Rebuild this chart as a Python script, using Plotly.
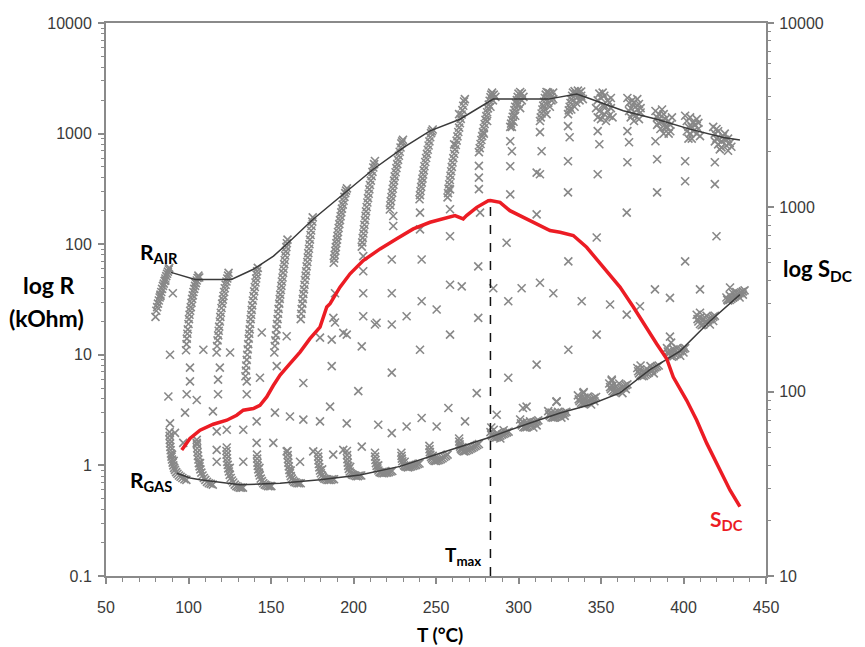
import plotly.graph_objects as go

# ---------------- data ----------------
# R_AIR envelope line (T in °C, R in kOhm)
rair_T = [89.4, 104, 126, 139, 151.5, 159.5, 175.5, 193.6, 212, 230.2, 246.4, 264.5, 284.7,
          318, 335.3, 341.3, 363.5, 383.7, 403.9, 424.1, 434.2]
rair_R = [55.6, 48, 48, 59, 78, 100, 168, 282, 476, 748, 1058, 1349, 2050,
          2050, 2275, 2120, 1607, 1349, 1097, 922, 877]

# R_GAS envelope line
rgas_T = [93, 101, 107, 131.2, 155.5, 179.7, 203.9, 228.2, 252.4, 282.7, 307, 325.2, 343.3,
          361.5, 379.7, 397.9, 416, 434.2]
rgas_R = [0.85, 0.77, 0.74, 0.667, 0.69, 0.74, 0.82, 0.98, 1.29, 1.80, 2.42, 2.98, 3.54,
          4.52, 7.35, 10.8, 20.1, 35]

# S_DC curve (right axis)
sdc_T = [95.9, 100.9, 107, 115, 123.2, 129.2, 133.2, 139.3, 143.3, 147.4, 151.4, 155.5, 161.5,
         167.6, 173.6, 179.7, 183.8, 185.8, 191.8, 197.9, 205.9, 216.1, 226.2, 236.2, 246.4,
         254.4, 261.5, 266.5, 268.5, 274.7, 281.7, 283, 288.8, 294.8, 305,
         319.1, 325.2, 333.2, 341.3, 351.4, 361.5, 369.6, 377.7, 383.7, 389.8, 393.8, 401.9,
         408, 414.1, 422.1, 428.2, 434.2]
sdc_S = [48.2, 55.7, 61.8, 66.6, 70, 74.5, 79.3, 81, 84.4, 93.6, 108, 123, 142,
         164, 194, 224, 288, 300, 369, 436, 514, 595, 675, 764, 830,
         865, 902, 865, 902, 1000, 1087, 1090, 1064, 959, 865,
         748, 732, 703, 607, 473, 369, 288, 220, 182, 151, 120, 89.8,
         70, 52.4, 37.5, 29.2, 23.8]

# T_max marker (dashed line)
tmax_T = [283, 283]
tmax_S = [10, 1090]

# dense measurement clusters in air (T, R)
air_clusters = [
    [(80, 22), (80.5, 25), (81, 27), (81.5, 29), (82, 31), (82.5, 33), (83, 35), (83.5, 37), (84, 39.5),
     (84.5, 42), (85, 44), (85.5, 46.5), (86, 49), (86.5, 51.5), (87, 54), (87.5, 56.5), (88, 59), (88.3, 61),
     (86, 47), (83, 34)],
    [(98.5, 11), (98.8, 12.5), (99, 14), (99.3, 15.5), (99.6, 17), (100, 19), (100.3, 21), (100.6, 23),
     (101, 25), (101.4, 27), (101.8, 29.5), (102.2, 32), (102.6, 34.5), (103, 37), (103.5, 39.5), (104, 42),
     (104.5, 44.5), (105, 47), (105.5, 49.5), (106, 52), (106.5, 50), (104, 45)],
    [(117, 10.5), (117.3, 12), (117.6, 13.5), (118, 15), (118.3, 16.5), (118.6, 18), (119, 20), (119.3, 22),
     (119.6, 24), (120, 26.5), (120.4, 29), (120.8, 31.5), (121.2, 34), (121.6, 37), (122, 40), (122.5, 43),
     (123, 46), (123.5, 49), (124, 52), (124.3, 55)],
    [(134.5, 6.4), (134.8, 7.2), (135, 8), (135.3, 9), (135.6, 10), (135.9, 11.2), (136.2, 12.5), (136.5, 14),
     (136.8, 15.5), (137.1, 17), (137.4, 19), (137.7, 21), (138, 23), (138.3, 25.5), (138.6, 28), (139, 31),
     (139.4, 34), (139.8, 37.5), (140.2, 41), (140.6, 45), (141, 49), (141.3, 53), (141.6, 57), (142, 61)],
    [(152, 10.5), (152.3, 12), (152.6, 13.5), (153, 15), (153.3, 17), (153.6, 19), (154, 21), (154.3, 23.5),
     (154.6, 26), (155, 29), (155.3, 32), (155.6, 35), (156, 38.5), (156.3, 42), (156.6, 46), (157, 50),
     (157.3, 55), (157.6, 60), (158, 66), (158.3, 72), (158.6, 79), (159, 86), (159.3, 94), (159.6, 102),
     (160, 110)],
    [(168, 21), (168.3, 23.5), (168.6, 26), (169, 29), (169.3, 32), (169.6, 35.5), (170, 39), (170.3, 43),
     (170.6, 47.5), (171, 52), (171.3, 57), (171.6, 63), (172, 69), (172.3, 76), (172.6, 83), (173, 91),
     (173.3, 100), (173.6, 110), (174, 121), (174.3, 133), (174.6, 146), (175, 160), (175.3, 175)],
    [(188, 68), (188.3, 74), (188.6, 80), (189, 87), (189.3, 94), (189.6, 102), (190, 110), (190.3, 119),
     (190.6, 129), (191, 140), (191.4, 152), (191.8, 165), (192.2, 179), (192.6, 194), (193, 210),
     (193.5, 228), (194, 247), (194.5, 268), (195, 290), (195.5, 305), (196, 320)],
    [(205, 95), (205.3, 104), (205.6, 114), (206, 125), (206.3, 137), (206.6, 150), (207, 165), (207.3, 181),
     (207.6, 198), (208, 217), (208.4, 238), (208.8, 261), (209.2, 286), (209.6, 313), (210, 343),
     (210.5, 376), (211, 412), (211.5, 451), (212, 494), (212.5, 530), (213, 565)],
    [(222, 206), (222.3, 225), (222.6, 245), (223, 267), (223.4, 291), (223.8, 317), (224.2, 345),
     (224.6, 376), (225, 410), (225.5, 447), (226, 487), (226.5, 530), (227, 578), (227.5, 630), (228, 686),
     (228.5, 748), (229, 815), (229.5, 850), (230, 880)],
    [(240, 255), (240.3, 278), (240.6, 303), (241, 330), (241.4, 360), (241.8, 392), (242.2, 427),
     (242.6, 465), (243, 507), (243.5, 553), (244, 602), (244.5, 656), (245, 715), (245.5, 780), (246, 850),
     (246.5, 927), (247, 1010), (247.5, 1050), (248, 1090)],
    [(257, 265), (257.3, 290), (257.6, 318), (258, 348), (258.4, 381), (258.8, 417), (259.2, 457), (259.6, 500),
     (260, 548), (260.5, 600), (261, 657), (261.5, 720), (262, 788), (262.5, 863), (263, 945), (263.5, 1035),
     (264, 1133), (264.5, 1240), (265, 1360), (265.5, 1490), (266, 1630), (266.5, 1785), (267, 1950),
     (267.5, 2050), (264, 1500), (261, 800)],
    [(276, 680), (276.5, 740), (277, 805), (277.5, 875), (278, 950), (278.5, 1030), (279, 1120), (279.5, 1220),
     (280, 1330), (280.5, 1440), (281, 1560), (281.5, 1690), (282, 1830), (282.5, 1980), (283, 2130),
     (283.5, 2250), (284, 2350), (285, 2250), (286, 2150), (283, 1750), (281, 1300), (279, 1000), (284.5, 2000)],
    [(295, 1150), (295.5, 1230), (296, 1320), (296.5, 1420), (297, 1520), (297.5, 1630), (298, 1750),
     (298.5, 1880), (299, 2010), (299.5, 2150), (300, 2300), (301, 2380), (302, 2300), (303, 2150),
     (298, 1450), (300, 1850), (302, 2000), (301, 1700), (296, 1150), (297, 1280)],
    [(313, 1300), (313.5, 1400), (314, 1520), (314.5, 1650), (315, 1790), (315.5, 1940), (316, 2100),
     (316.5, 2250), (317, 2380), (318, 2350), (319, 2300), (320, 2150), (321, 2350), (316, 1650), (318, 1900),
     (320, 2000), (317, 1500), (319, 1750), (321, 2050)],
    [(330, 1500), (330.5, 1620), (331, 1750), (331.5, 1890), (332, 2040), (332.5, 2200), (333, 2350),
     (334, 2420), (335, 2300), (336, 2450), (337, 2350), (338, 2200), (339, 2050), (332, 1650), (335, 1900),
     (334, 1750), (337, 2000), (338, 2400), (336, 2150)],
    [(347, 1700), (348, 2000), (349, 2300), (350, 2100), (351, 1800), (352, 1500), (353, 1300), (354, 1600),
     (355, 1900), (356, 1700), (357, 1400), (350, 1350), (352, 2200), (349, 1600), (351, 2350), (354, 2000),
     (356, 2100), (353, 1750), (348, 1400), (355, 1450)],
    [(366, 2100), (367, 1900), (368, 1700), (369, 1500), (370, 1300), (371, 1450), (372, 1650), (373, 1850),
     (374, 1550), (369, 2000), (371, 1750), (367, 1600), (373, 1350), (370, 1900), (368, 1400), (372, 2050),
     (374, 1700)],
    [(383, 1600), (384, 1400), (385, 1250), (386, 1100), (387, 1300), (388, 1500), (389, 1350), (390, 1150),
     (391, 1000), (392, 1200), (393, 1400), (387, 1650), (385, 1500), (389, 1150), (391, 1300), (384, 1200),
     (392, 1050), (388, 1000)],
    [(401, 1450), (402, 1300), (403, 1150), (404, 1000), (405, 900), (406, 1050), (407, 1200), (408, 1350),
     (409, 1100), (410, 950), (404, 1400), (402, 1050), (406, 1250), (408, 1000), (405, 1150), (403, 900),
     (409, 1250)],
    [(418, 1150), (419, 1000), (420, 900), (421, 800), (422, 720), (423, 850), (424, 950), (425, 880),
     (426, 780), (427, 700), (428, 820), (421, 1050), (419, 850), (423, 750), (425, 1000), (427, 900),
     (429, 760), (420, 1100)],
]

# dense measurement clusters in gas (T, R)
gas_clusters = [
    [(88.5, 2.0), (88.6, 1.85), (88.7, 1.7), (88.8, 1.58), (89, 1.47), (89.2, 1.37), (89.4, 1.28), (89.7, 1.2),
     (90, 1.13), (90.4, 1.06), (90.8, 1.0), (91.3, 0.95), (91.8, 0.91), (92.5, 0.87), (93.3, 0.84),
     (94.2, 0.81), (95.2, 0.79), (96.3, 0.77), (97.5, 0.75), (98.7, 0.74), (90, 1.25), (91, 1.1)],
    [(105, 1.7), (105.1, 1.55), (105.3, 1.43), (105.5, 1.32), (105.7, 1.22), (106, 1.13), (106.3, 1.05),
     (106.7, 0.98), (107.2, 0.92), (107.8, 0.86), (108.5, 0.81), (109.3, 0.77), (110.2, 0.74), (111.2, 0.71),
     (112.3, 0.69), (113.5, 0.68), (114.7, 0.67), (107, 1.05)],
    [(123, 1.35), (123.1, 1.25), (123.3, 1.16), (123.5, 1.08), (123.8, 1.01), (124.1, 0.94), (124.5, 0.88),
     (125, 0.82), (125.6, 0.77), (126.3, 0.73), (127.1, 0.7), (128, 0.67), (129, 0.65), (130, 0.64),
     (131, 0.63), (132, 0.63), (133, 0.63), (125, 0.95)],
    [(141.5, 1.25), (141.6, 1.15), (141.8, 1.06), (142, 0.99), (142.3, 0.92), (142.7, 0.86), (143.2, 0.81),
     (143.8, 0.76), (144.5, 0.72), (145.3, 0.69), (146.2, 0.67), (147.2, 0.66), (148.2, 0.65), (149.2, 0.65),
     (150.2, 0.65), (143, 0.95)],
    [(160, 1.35), (160.1, 1.24), (160.3, 1.14), (160.5, 1.06), (160.8, 0.98), (161.1, 0.91), (161.5, 0.85),
     (162, 0.8), (162.6, 0.76), (163.3, 0.73), (164.1, 0.71), (165, 0.7), (166, 0.69), (167, 0.69),
     (168, 0.69), (162, 0.9)],
    [(178.5, 1.3), (178.6, 1.2), (178.8, 1.11), (179, 1.03), (179.3, 0.96), (179.7, 0.9), (180.2, 0.85),
     (180.8, 0.81), (181.5, 0.78), (182.3, 0.76), (183.2, 0.75), (184.2, 0.74), (185.2, 0.74), (186.2, 0.74),
     (187.2, 0.75), (188.2, 0.75), (181, 0.92)],
    [(196, 1.35), (196.1, 1.24), (196.3, 1.14), (196.5, 1.06), (196.8, 0.99), (197.2, 0.93), (197.7, 0.88),
     (198.3, 0.85), (199, 0.83), (199.8, 0.82), (200.7, 0.81), (201.7, 0.8), (202.7, 0.8), (203.7, 0.81),
     (204.7, 0.81), (198, 0.97)],
    [(213, 1.3), (213.1, 1.2), (213.3, 1.12), (213.6, 1.05), (214, 0.99), (214.5, 0.94), (215.1, 0.9),
     (215.8, 0.87), (216.6, 0.86), (217.5, 0.85), (218.5, 0.85), (219.5, 0.86), (220.5, 0.86), (221.5, 0.87),
     (222.5, 0.88), (223.5, 0.89), (215, 1.0)],
    [(229, 1.3), (229.1, 1.22), (229.3, 1.15), (229.6, 1.09), (230, 1.04), (230.6, 1.0), (231.3, 0.98),
     (232.1, 0.97), (233, 0.96), (234, 0.97), (235, 0.98), (236, 0.99), (237, 1.0), (238, 1.01), (239, 1.03),
     (240, 1.04), (231, 1.08)],
    [(246, 1.5), (246.1, 1.4), (246.3, 1.32), (246.6, 1.25), (247, 1.19), (247.6, 1.15), (248.3, 1.12),
     (249.1, 1.1), (250, 1.1), (251, 1.11), (252, 1.12), (253, 1.14), (254, 1.16), (255, 1.19), (256, 1.22),
     (257, 1.25), (248, 1.22)],
    [(264, 1.75), (264.1, 1.64), (264.3, 1.55), (264.6, 1.48), (265, 1.42), (265.6, 1.38), (266.3, 1.35),
     (267.1, 1.34), (268, 1.35), (269, 1.37), (270, 1.39), (271, 1.42), (272, 1.44), (273, 1.47), (274, 1.5),
     (275, 1.53), (276, 1.56), (266, 1.46)],
    [(283, 2.0), (283.5, 1.9), (284, 1.85), (285, 1.8), (286, 1.78), (287, 1.8), (288, 1.82), (289, 1.86),
     (290, 1.9), (291, 1.93), (292, 1.96), (293, 1.99), (294, 2.02), (285, 2.1), (289, 1.75), (287, 1.95),
     (291, 2.08), (283.5, 2.2)],
    [(301, 2.6), (301.5, 2.4), (302, 2.3), (303, 2.22), (304, 2.2), (305, 2.22), (306, 2.25), (307, 2.3),
     (308, 2.35), (309, 2.4), (310, 2.45), (311, 2.5), (312, 2.55), (305, 2.45), (309, 2.2), (303, 2.45),
     (307, 2.5), (311, 2.3), (302.7, 3.3)],
    [(318, 3.1), (318.5, 2.9), (319, 2.8), (320, 2.72), (321, 2.7), (322, 2.72), (323, 2.75), (324, 2.8),
     (325, 2.85), (326, 2.9), (327, 2.95), (328, 3.0), (329, 3.05), (322, 3.0), (326, 2.7), (320, 3.0),
     (324, 3.05), (328, 2.8), (323, 3.75)],
    [(336, 4.3), (336.5, 3.95), (337, 3.8), (338, 3.68), (339, 3.6), (340, 3.62), (341, 3.68), (342, 3.75),
     (343, 3.85), (344, 3.92), (345, 4.0), (346, 4.08), (347, 4.15), (340, 4.1), (344, 3.55), (338, 4.05),
     (342, 4.2), (346, 3.8), (339.5, 4.6)],
    [(355, 5.5), (355.5, 5.1), (356, 4.9), (357, 4.7), (358, 4.6), (359, 4.65), (360, 4.75), (361, 4.85),
     (362, 4.95), (363, 5.05), (364, 5.2), (365, 5.3), (366, 5.4), (359, 5.2), (363, 4.5), (357, 5.25),
     (361, 5.5), (365, 4.9), (356.5, 5.8)],
    [(372, 7.6), (372.5, 7.1), (373, 6.8), (374, 6.55), (375, 6.4), (376, 6.45), (377, 6.6), (378, 6.75),
     (379, 6.9), (380, 7.1), (381, 7.3), (382, 7.5), (383, 7.7), (384, 7.85), (385, 8.0), (378, 7.4),
     (382, 6.8), (376, 7.0), (380, 7.9), (374, 8.0)],
    [(390, 11.5), (390.5, 10.7), (391, 10.2), (392, 9.8), (393, 9.6), (394, 9.7), (395, 10.0), (396, 10.2),
     (397, 10.5), (398, 10.8), (399, 11.0), (400, 11.3), (401, 11.5), (394, 11.2), (398, 9.8), (392, 10.8),
     (396, 11.5), (400, 10.5), (391.8, 14.6), (392.5, 12.9)],
    [(408, 23), (408.5, 21), (409, 20), (410, 19), (411, 18.5), (412, 18.8), (413, 19.5), (414, 20),
     (415, 20.5), (416, 21), (417, 21.5), (418, 22), (419, 22.5), (412, 21), (416, 18.8), (410, 21.5),
     (414, 22.5), (418, 20.2), (410, 24)],
    [(426, 33), (426.5, 31.5), (427, 31), (428, 31.3), (429, 32), (430, 32.8), (431, 33.6), (432, 34.4),
     (433, 35.2), (434, 36), (435, 36.8), (436, 37.5), (437, 38.2), (430, 36), (434, 33), (428, 34.5),
     (432, 37), (436, 35), (428.2, 40.6)],
]

# isolated transition points (T, R)
sparse_pts = [
    (88.8, 10.0), (87.8, 4.2), (88.8, 2.4), (91.8, 1.97), (98.9, 4.4), (105, 3.9), (97.9, 3.0), (109, 11.1),
    (100.9, 5.75), (100.9, 7.65), (119, 7.65), (117.9, 4.4), (117.9, 5.96), (114.8, 3.08), (117.1, 2.03),
    (123.2, 2.1), (125.2, 10.5), (135.3, 5.75), (135.3, 4.4), (133.2, 2.1), (144.4, 15.9), (143.3, 6.2),
    (153.5, 7.9), (152.4, 3.0), (159.5, 14.7), (169.6, 5.56), (179.7, 14.3), (186.8, 13.7), (186.8, 7.9),
    (185.8, 3.4), (161.5, 2.77), (169.6, 2.59), (179.7, 2.5), (141.3, 2.5), (141.3, 1.6), (117.1, 1.38),
    (123.2, 1.45), (105, 1.6), (96.8, 1.6), (117.1, 1.08), (133.2, 1.08), (151.4, 1.6), (159.5, 1.34),
    (167.6, 1.08), (175.6, 1.34), (187.7, 1.25), (188.8, 19.6), (90.5, 36),
    (205.9, 22.3), (223.2, 72.8), (223.2, 36), (241.3, 72.8), (241.3, 30.5), (250.4, 25.7), (232.2, 22.3),
    (223.2, 18.8), (214, 19.5), (205.9, 36), (205.9, 57), (258.5, 118), (258.5, 43), (265.6, 41.5),
    (240.3, 193), (240.3, 136), (224.1, 180), (224.1, 146), (275.6, 63), (275.6, 21.6), (276.7, 193),
    (284.7, 40), (187.8, 21.6), (188.8, 36), (258.5, 207), (258.5, 313), (205.9, 78), (193.8, 15.8),
    (205, 11.9), (223.2, 6.9), (240.3, 11.1), (258.5, 15.2), (202.9, 4.7), (195.9, 2.4), (215, 2.33),
    (223.2, 1.96), (232.2, 2.25), (241.3, 2.68), (250.4, 2.25), (257.5, 3.3), (267.6, 2.5), (274.7, 4.5),
    (286.8, 2.87), (193.8, 1.38), (205, 1.48), (195.9, 15.2), (213, 18.8),
    (276, 510), (276, 400), (276, 315),
    (292.8, 103), (293.8, 30.5), (301.9, 40), (313, 44.8), (321.1, 36), (311, 186), (311, 444), (330.2, 70),
    (338.3, 30.5), (347.4, 115), (347.4, 15.2), (355.5, 28.5), (365.6, 193), (365.6, 23.1), (373.6, 27.5),
    (382.7, 39), (391.8, 32.7), (410, 39), (330.2, 11.1), (311, 8.15), (293.8, 6.2), (304.9, 3.4),
    (323.1, 3.8), (339.3, 4.5), (356.5, 5.96), (373.6, 7.35), (401, 70),
    (295, 853), (296, 692), (295, 507), (295, 282), (313, 1030), (314, 692), (313, 429),
    (330, 1167), (331, 927), (330, 562), (330, 294), (348, 1052), (349, 801), (348, 429),
    (366, 1052), (367, 836), (366, 551), (383, 853), (384, 586), (384, 294), (401, 562), (401, 371),
    (419, 551), (419, 349), (420, 118),
]

x_ticks = [50, 100, 150, 200, 250, 300, 350, 400, 450]
yl_ticks = [0.1, 1, 10, 100, 1000, 10000]
yl_labels = ["0.1", "1", "10", "100", "1000", "10000"]
yr_ticks = [10, 100, 1000, 10000]
yr_labels = ["10", "100", "1000", "10000"]

# ---------------- figure ----------------
pts = [p for c in air_clusters for p in c] + [p for c in gas_clusters for p in c] + sparse_pts
pts_T = [p[0] for p in pts]
pts_R = [p[1] for p in pts]

AX = "#8a8a8a"
TICKFONT = dict(family="Liberation Sans, Arial, sans-serif", size=16, color="#3a3a3a")
LBL = "Lato, 'Open Sans', sans-serif"
RED = "#ec1c24"

fig = go.Figure()
fig.add_trace(go.Scatter(x=pts_T, y=pts_R, mode="markers", yaxis="y",
                         marker=dict(symbol="x-thin", size=8, color="#888888",
                                     line=dict(width=1.6, color="#888888")),
                         showlegend=False, hoverinfo="skip"))
fig.add_trace(go.Scatter(x=rair_T, y=rair_R, mode="lines", yaxis="y",
                         line=dict(color="#3a3a3a", width=1.5), showlegend=False))
fig.add_trace(go.Scatter(x=rgas_T, y=rgas_R, mode="lines", yaxis="y",
                         line=dict(color="#3a3a3a", width=1.5), showlegend=False))
fig.add_trace(go.Scatter(x=tmax_T, y=tmax_S, mode="lines", yaxis="y2",
                         line=dict(color="#111111", width=1.5, dash="dash"), showlegend=False))
fig.add_trace(go.Scatter(x=sdc_T, y=sdc_S, mode="lines", yaxis="y2",
                         line=dict(color=RED, width=3.5), showlegend=False))

minor_left = [k * 10 ** e for e in range(-1, 4) for k in range(2, 10)]
minor_right = [k * 10 ** e for e in range(1, 4) for k in range(2, 10)]

# The page body has an 8px margin, so the figure is 8px smaller than the window.
fig.update_layout(
    width=857, height=639,
    margin=dict(l=98, r=99, t=15, b=71, autoexpand=False),
    paper_bgcolor="white", plot_bgcolor="white",
    showlegend=False,
    xaxis=dict(range=[50, 450], tickmode="array", tickvals=x_ticks,
               showline=True, linecolor=AX, linewidth=2, mirror=True,
               ticks="outside", ticklen=6, tickwidth=1.5, tickcolor=AX,
               minor=dict(tickmode="linear", tick0=50, dtick=10, ticks="outside", ticklen=4,
                          tickwidth=1, tickcolor=AX),
               showgrid=False, zeroline=False, tickfont=TICKFONT, ticklabelstandoff=10,
               automargin=False),
    yaxis=dict(type="log", range=[-1, 4], tickmode="array", tickvals=yl_ticks, ticktext=yl_labels,
               showline=True, linecolor=AX, linewidth=2,
               ticks="outside", ticklen=6, tickwidth=1.5, tickcolor=AX,
               minor=dict(tickmode="array", tickvals=minor_left, ticks="outside", ticklen=3,
                          tickwidth=1, tickcolor=AX),
               showgrid=False, zeroline=False, tickfont=TICKFONT, ticklabelstandoff=3,
               automargin=False),
    yaxis2=dict(type="log", range=[1, 4], overlaying="y", side="right", tickmode="array",
                tickvals=yr_ticks, ticktext=yr_labels,
                showline=True, linecolor=AX, linewidth=2,
                ticks="outside", ticklen=6, tickwidth=1.5, tickcolor=AX,
                minor=dict(tickmode="array", tickvals=minor_right, ticks="outside", ticklen=3,
                           tickwidth=1, tickcolor=AX),
                showgrid=False, zeroline=False, tickfont=TICKFONT, ticklabelstandoff=2,
                automargin=False),
)

# axis titles, positioned relative to the plot area (window pixels -> plot fractions)
ann = [
    dict(text="<b>log R</b>", x=49, y=285, size=23),
    dict(text="<b>(kOhm)</b>", x=47, y=318, size=23),
    dict(text="<b>log S<sub>DC</sub></b>", x=817, y=270, size=22),
    dict(text="<b>T (°C)</b>", x=440, y=634, size=19),
]
for a in ann:
    fig.add_annotation(text=a["text"], xref="paper", yref="paper",
                       x=(a["x"] - 106) / 660, y=(576 - a["y"]) / 553, showarrow=False,
                       xanchor="center", yanchor="middle",
                       font=dict(family=LBL, size=a["size"], color="black"))

# in-plot labels (data coordinates)
fig.add_annotation(text="<b>R<sub>AIR</sub></b>", x=82, y=1.92, xref="x", yref="y", showarrow=False,
                   font=dict(family=LBL, size=21, color="black"))
fig.add_annotation(text="<b>R<sub>GAS</sub></b>", x=77, y=-0.14, xref="x", yref="y", showarrow=False,
                   font=dict(family=LBL, size=21, color="black"))
fig.add_annotation(text="<b>T<sub>max</sub></b>", x=266.5, y=-0.82, xref="x", yref="y", showarrow=False,
                   font=dict(family=LBL, size=19, color="black"))
fig.add_annotation(text="<b>S<sub>DC</sub></b>", x=426, y=-0.49, xref="x", yref="y", showarrow=False,
                   font=dict(family=LBL, size=21, color=RED))

fig.write_html("out.html")
